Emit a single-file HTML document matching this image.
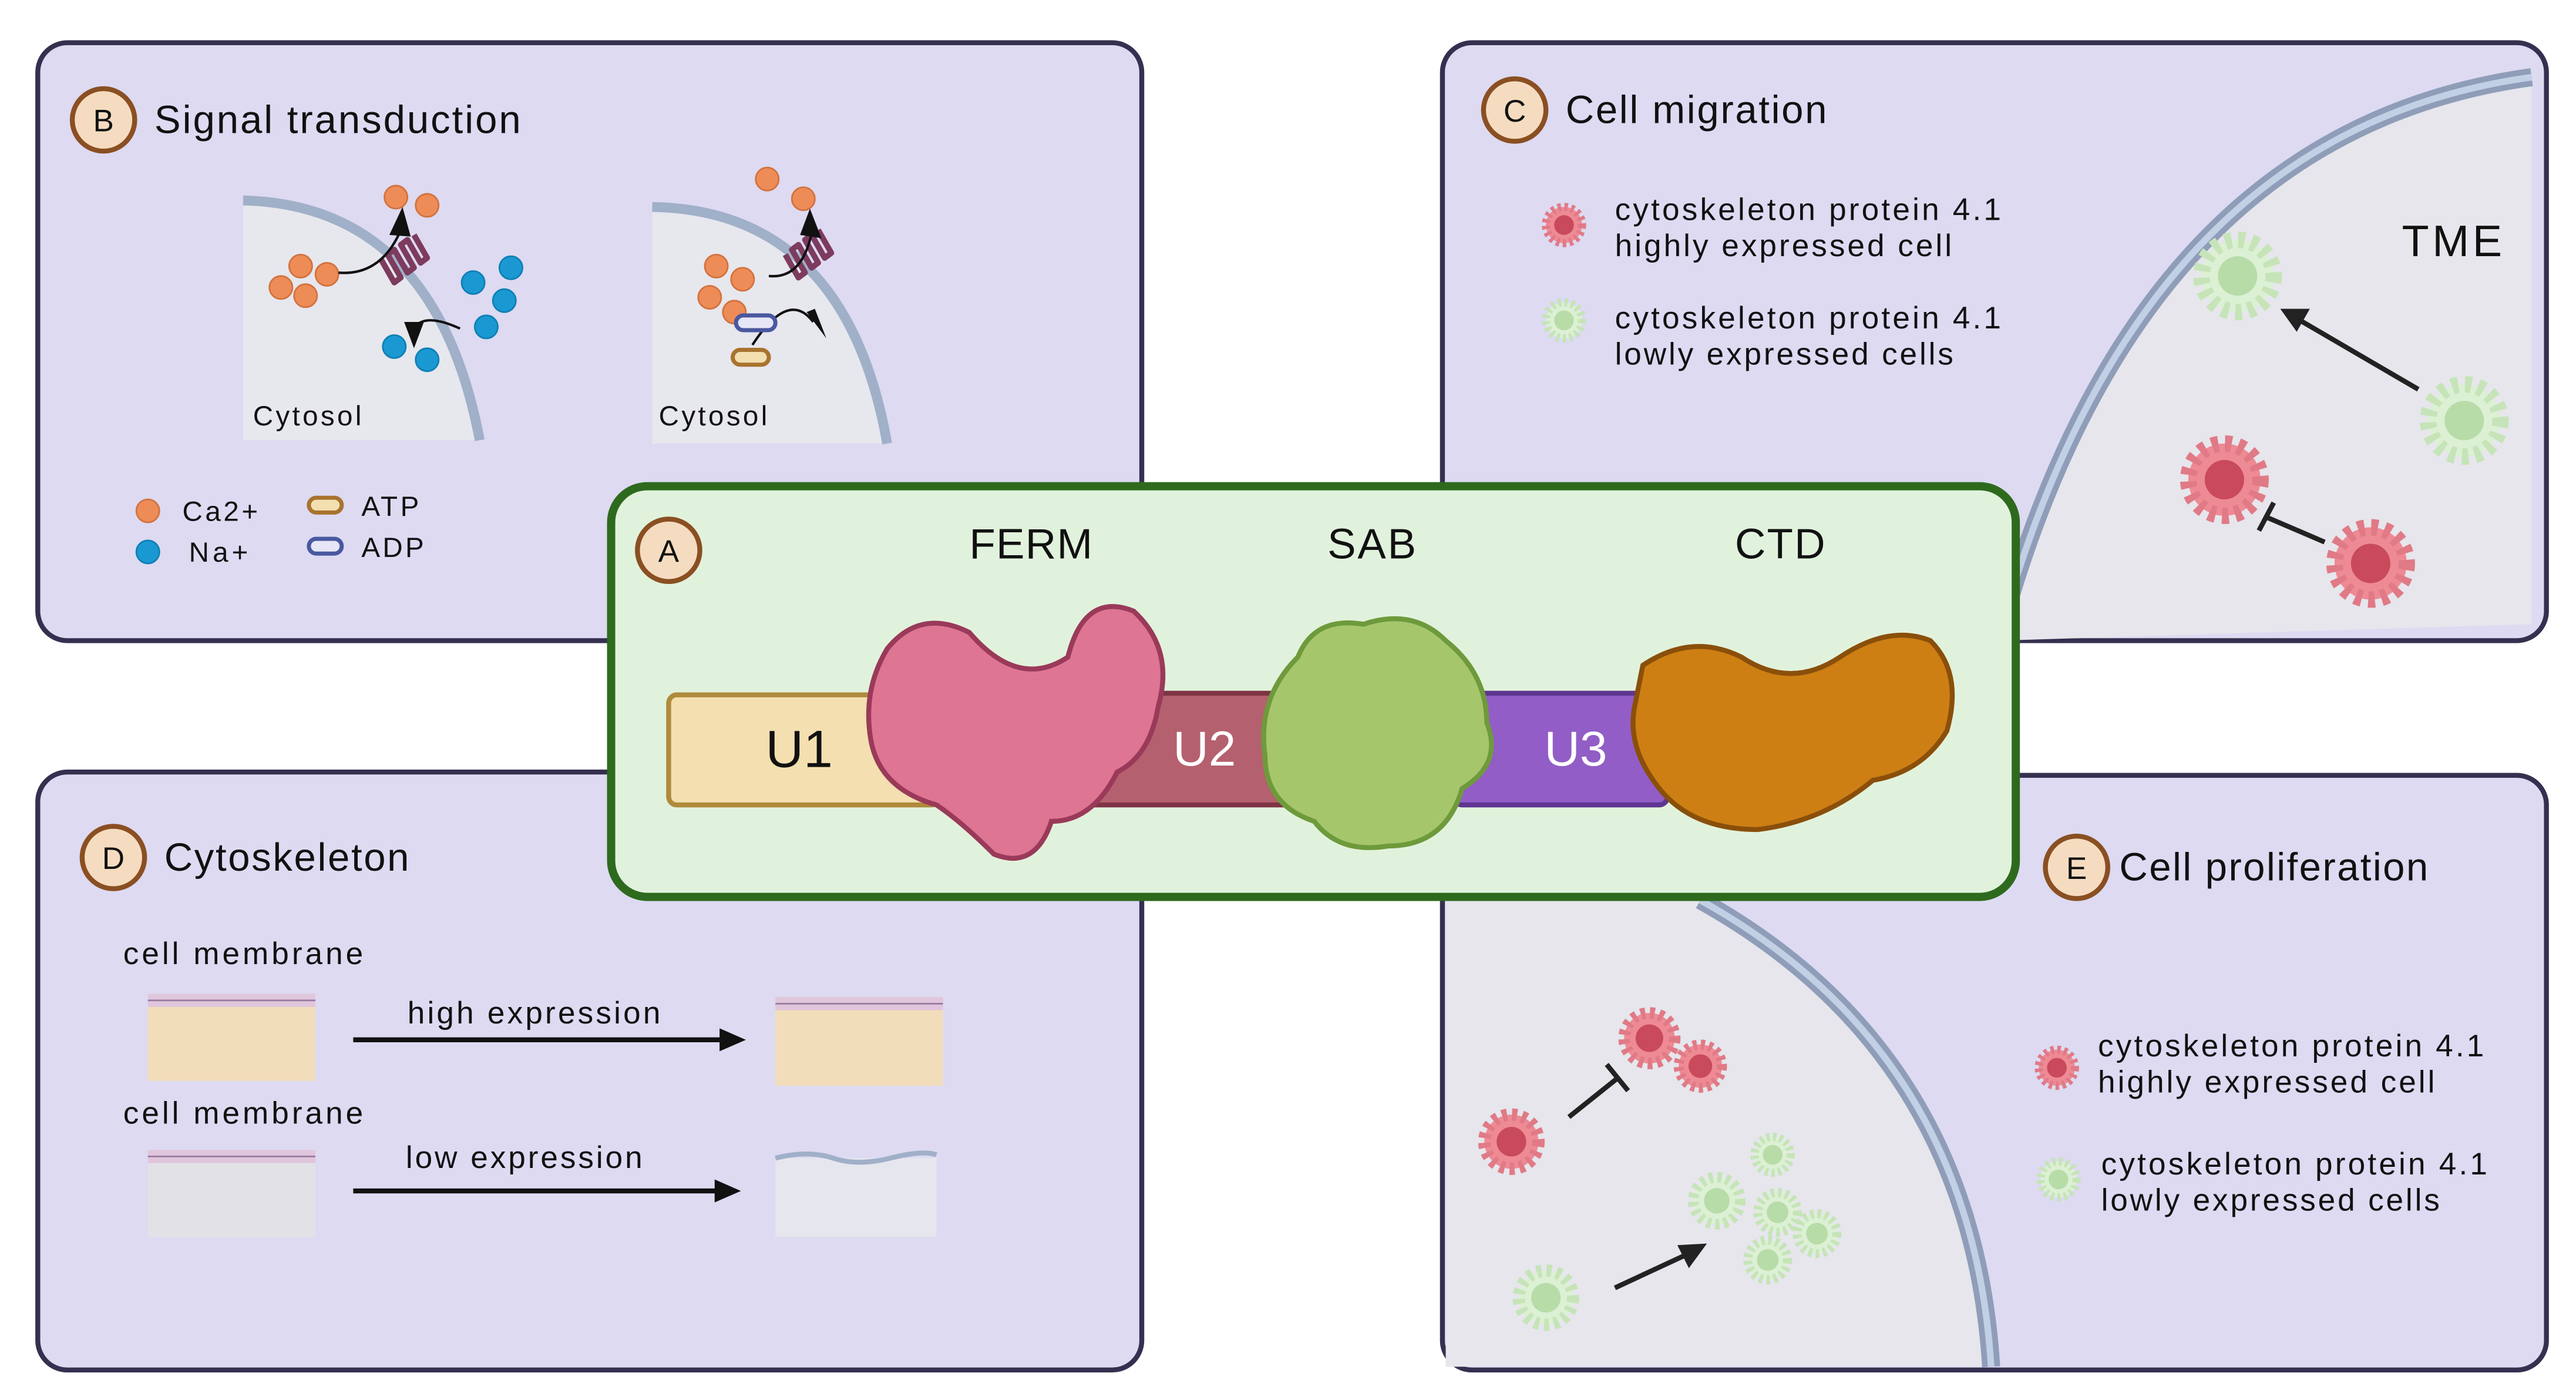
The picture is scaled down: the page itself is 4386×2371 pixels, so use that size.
<!DOCTYPE html>
<html><head><meta charset="utf-8"><style>html,body{margin:0;padding:0;background:#fff}svg{display:block}text{font-family:"Liberation Sans",sans-serif;fill:#111}</style></head><body>
<svg width="4386" height="2371" viewBox="0 0 1568 848" preserveAspectRatio="none" xmlns="http://www.w3.org/2000/svg">
<defs>
<g id="rc"><circle r="11" fill="#ee8a94" stroke="#e07a86" stroke-width="5" stroke-dasharray="2 2"/><circle r="6" fill="#c94a5a"/></g>
<g id="gc"><circle r="11" fill="#dcf0d4" stroke="#c6e4b8" stroke-width="5" stroke-dasharray="2 2"/><circle r="6" fill="#b8dca8"/></g>
</defs>
<rect x="23" y="26" width="672" height="364" rx="18" fill="#dddaf2" stroke="#35304f" stroke-width="3"/>
<rect x="878" y="26" width="672" height="364" rx="18" fill="#dddaf2" stroke="#35304f" stroke-width="3"/>
<rect x="23" y="470" width="672" height="364" rx="18" fill="#dddaf2" stroke="#35304f" stroke-width="3"/>
<rect x="878" y="472" width="672" height="362" rx="18" fill="#dddaf2" stroke="#35304f" stroke-width="3"/>

<!-- B -->
<path d="M148,122 Q265,125 292,268 L148,268 Z" fill="#e7e7ee"/>
<path d="M148,122 Q265,125 292,268" fill="none" stroke="#9fb0c8" stroke-width="6"/>
<path d="M397,126 Q515,128 540,270 L397,270 Z" fill="#e7e7ee"/>
<path d="M397,126 Q515,128 540,270" fill="none" stroke="#9fb0c8" stroke-width="6"/>
<g fill="#ee8c58" stroke="#d2733e" stroke-width="1">
<circle cx="241" cy="120" r="7"/><circle cx="260" cy="125" r="7"/>
<circle cx="183" cy="162" r="7"/><circle cx="199" cy="167" r="7"/><circle cx="171" cy="175" r="7"/><circle cx="186" cy="180" r="7"/>
<circle cx="467" cy="109" r="7"/><circle cx="489" cy="121" r="7"/>
<circle cx="436" cy="162" r="7"/><circle cx="452" cy="170" r="7"/><circle cx="432" cy="181" r="7"/><circle cx="447" cy="190" r="7"/>
<circle cx="90" cy="311" r="7"/></g>
<g fill="#1a98d2" stroke="#1080b4" stroke-width="1">
<circle cx="311" cy="163" r="7"/><circle cx="288" cy="172" r="7"/><circle cx="307" cy="183" r="7"/><circle cx="296" cy="199" r="7"/><circle cx="240" cy="211" r="7"/><circle cx="260" cy="219" r="7"/><circle cx="90" cy="336" r="7"/></g>
<g fill="none" stroke="#7d3b5e" stroke-width="3.5" stroke-linejoin="round">
<path d="M232,158 l8,14 l4,-3 l-8,-14 l4,-3 l8,14 l4,-3 l-8,-14 l4,-3 l8,14 l4,-3 l-8,-14"/>
<path d="M478,155 l8,14 l4,-3 l-8,-14 l4,-3 l8,14 l4,-3 l-8,-14 l4,-3 l8,14 l4,-3 l-8,-14"/></g>
<g fill="none" stroke="#111" stroke-width="1.5"><path d="M206,166 Q232,168 244,140"/><path d="M280,200 Q258,190 252,200"/><path d="M468,168 Q488,170 494,142"/><path d="M458,210 Q480,176 495,196"/></g>
<g fill="#111"><path d="M237,143 L245,126 L250,144 Z"/><path d="M246,196 L252,212 L258,196 Z"/><path d="M487,143 L493,127 L500,145 Z"/><path d="M491,190 L503,206 L496,188 Z"/></g>
<rect x="448" y="192" width="24" height="9" rx="4.5" fill="#e6e6f6" stroke="#4a58a0" stroke-width="2.5"/>
<rect x="446" y="213" width="22" height="9" rx="4.5" fill="#f3dfb0" stroke="#a8732e" stroke-width="2.5"/>
<rect x="188" y="303" width="20" height="9" rx="4.5" fill="#f3dfb0" stroke="#a8732e" stroke-width="2.5"/>
<rect x="188" y="328" width="20" height="9" rx="4.5" fill="#e6e6f6" stroke="#4a58a0" stroke-width="2.5"/>
<g font-size="17"><text x="154" y="259" textLength="66">Cytosol</text><text x="401" y="259" textLength="66">Cytosol</text>
<text x="111" y="317" textLength="46">Ca2+</text><text x="115" y="342" textLength="36">Na+</text><text x="220" y="314" textLength="35">ATP</text><text x="220" y="339" textLength="38">ADP</text></g>
<circle cx="63" cy="73" r="19" fill="#f5dcc0" stroke="#8a4f22" stroke-width="3"/><text x="63" y="80" font-size="19" text-anchor="middle">B</text>
<text x="94" y="81" font-size="24" textLength="223">Signal transduction</text>

<!-- C -->
<path d="M1216,390 Q1300,80 1541,47 L1541,380 L1216,390 Z" fill="#e6e6ec"/>
<path d="M1216,390 Q1300,80 1541,47" fill="none" stroke="#8f9db8" stroke-width="11"/>
<path d="M1216,390 Q1300,80 1541,47" fill="none" stroke="#c2d0e6" stroke-width="4"/>
<circle cx="922" cy="67" r="19" fill="#f5dcc0" stroke="#8a4f22" stroke-width="3"/><text x="922" y="74" font-size="19" text-anchor="middle">C</text>
<text x="953" y="75" font-size="24" textLength="159">Cell migration</text>
<use href="#rc" x="952" y="137"/><use href="#gc" x="952" y="195"/>
<g font-size="19"><text x="983" y="134" textLength="235">cytoskeleton protein 4.1</text><text x="983" y="156" textLength="205">highly expressed cell</text>
<text x="983" y="200" textLength="235">cytoskeleton protein 4.1</text><text x="983" y="222" textLength="206">lowly expressed cells</text></g>
<text x="1462" y="156" font-size="27" textLength="61">TME</text>
<g transform="translate(1362,168) scale(2)"><use href="#gc"/></g>
<g transform="translate(1500,256) scale(2)"><use href="#gc"/></g>
<g transform="translate(1354,292) scale(2)"><use href="#rc"/></g>
<g transform="translate(1443,343) scale(2)"><use href="#rc"/></g>
<line x1="1472" y1="237" x2="1400" y2="195" stroke="#222" stroke-width="3"/><path d="M1388,188 L1406,188 L1398,202 Z" fill="#222"/>
<line x1="1415" y1="330" x2="1380" y2="315" stroke="#222" stroke-width="3"/><line x1="1375" y1="323" x2="1384" y2="306" stroke="#222" stroke-width="3"/>

<!-- D -->
<circle cx="69" cy="522" r="19" fill="#f5dcc0" stroke="#8a4f22" stroke-width="3"/><text x="69" y="529" font-size="19" text-anchor="middle">D</text>
<text x="100" y="530" font-size="24" textLength="149">Cytoskeleton</text>
<g font-size="19"><text x="75" y="587" textLength="146">cell membrane</text><text x="75" y="684" textLength="146">cell membrane</text><text x="248" y="623" textLength="154">high expression</text><text x="247" y="711" textLength="144">low expression</text></g>
<rect x="90" y="605" width="102" height="53" fill="#f2ddbb"/><rect x="90" y="605" width="102" height="8" fill="#e0c6dc"/><line x1="90" y1="609" x2="192" y2="609" stroke="#9a7aa0"/>
<rect x="472" y="607" width="102" height="54" fill="#f2ddbb"/><rect x="472" y="607" width="102" height="8" fill="#e0c6dc"/><line x1="472" y1="611" x2="574" y2="611" stroke="#9a7aa0"/>
<rect x="90" y="700" width="102" height="53" fill="#e2e2e6"/><rect x="90" y="700" width="102" height="8" fill="#e0c6dc"/><line x1="90" y1="704" x2="192" y2="704" stroke="#9a7aa0"/>
<rect x="472" y="705" width="98" height="48" fill="#e6e6ee"/><path d="M472,705 q20,-5 35,0 t35,0 t28,-2" fill="none" stroke="#9fb0c8" stroke-width="3"/>
<line x1="215" y1="633" x2="440" y2="633" stroke="#111" stroke-width="3"/><path d="M454,633 L438,626 L438,640 Z" fill="#111"/>
<line x1="215" y1="725" x2="437" y2="725" stroke="#111" stroke-width="3"/><path d="M451,725 L435,718 L435,732 Z" fill="#111"/>

<!-- E -->
<path d="M880,548 L1035,548 Q1200,640 1212,832 L880,832 Z" fill="#e6e6ec"/>
<path d="M1035,548 Q1200,640 1212,832" fill="none" stroke="#8f9db8" stroke-width="11"/>
<path d="M1035,548 Q1200,640 1212,832" fill="none" stroke="#c2d0e6" stroke-width="4"/>
<circle cx="1264" cy="528" r="19" fill="#f5dcc0" stroke="#8a4f22" stroke-width="3"/><text x="1264" y="535" font-size="19" text-anchor="middle">E</text>
<text x="1290" y="536" font-size="24" textLength="188">Cell proliferation</text>
<use href="#rc" x="1252" y="650"/><use href="#gc" x="1253" y="718"/>
<g font-size="19"><text x="1277" y="643" textLength="235">cytoskeleton protein 4.1</text><text x="1277" y="665" textLength="205">highly expressed cell</text>
<text x="1279" y="715" textLength="235">cytoskeleton protein 4.1</text><text x="1279" y="737" textLength="206">lowly expressed cells</text></g>
<g transform="translate(920,695) scale(1.5)"><use href="#rc"/></g>
<g transform="translate(1004,632) scale(1.4)"><use href="#rc"/></g>
<g transform="translate(1035,649) scale(1.2)"><use href="#rc"/></g>
<g transform="translate(1079,703) scale(1)"><use href="#gc"/></g>
<g transform="translate(1045,731) scale(1.3)"><use href="#gc"/></g>
<g transform="translate(1082,738) scale(1.1)"><use href="#gc"/></g>
<g transform="translate(1106,751) scale(1.1)"><use href="#gc"/></g>
<g transform="translate(1076,767) scale(1.1)"><use href="#gc"/></g>
<g transform="translate(941,790) scale(1.5)"><use href="#gc"/></g>
<line x1="955" y1="680" x2="985" y2="656" stroke="#222" stroke-width="3"/><line x1="978" y1="648" x2="991" y2="664" stroke="#222" stroke-width="3"/>
<line x1="983" y1="784" x2="1026" y2="764" stroke="#222" stroke-width="3"/><path d="M1039,757 L1021,758 L1028,772 Z" fill="#222"/>

<!-- A -->
<rect x="372" y="296" width="855" height="250" rx="22" fill="#e1f2dc" stroke="#2e6a1e" stroke-width="5"/>
<circle cx="407" cy="335" r="19" fill="#f5dcc0" stroke="#8a4f22" stroke-width="3"/><text x="407" y="342" font-size="19" text-anchor="middle">A</text>
<g font-size="26"><text x="590" y="340" textLength="75">FERM</text><text x="808" y="340" textLength="54">SAB</text><text x="1056" y="340" textLength="55">CTD</text></g>
<rect x="407" y="423" width="165" height="67" rx="5" fill="#f3dfb0" stroke="#b08a3c" stroke-width="3"/>
<rect x="655" y="422" width="150" height="68" rx="5" fill="#b5606e" stroke="#7e3444" stroke-width="3"/>
<rect x="885" y="422" width="130" height="68" rx="5" fill="#925dc6" stroke="#5e3590" stroke-width="3"/>
<path d="M540,395 Q560,370 590,385 Q620,420 650,400 Q660,360 690,372 Q715,395 705,430 Q700,460 680,470 Q665,500 640,500 Q630,530 605,520 Q585,500 570,490 Q535,480 530,450 Q525,420 540,395 Z" fill="#de7592" stroke="#9a3a5a" stroke-width="3"/>
<path d="M790,400 Q800,375 830,380 Q860,370 880,390 Q905,410 905,440 Q915,465 890,480 Q880,515 845,515 Q815,520 800,500 Q770,490 770,460 Q765,425 790,400 Z" fill="#a6c66c" stroke="#6e9a3c" stroke-width="3"/>
<path d="M1000,405 Q1030,385 1060,400 Q1090,420 1120,400 Q1150,380 1175,390 Q1195,410 1185,445 Q1170,470 1140,475 Q1110,500 1070,505 Q1030,505 1010,480 Q990,455 995,430 Z" fill="#cd7f14" stroke="#8a4f0a" stroke-width="3"/>
<text x="466" y="467" font-size="32">U1</text>
<g font-size="30"><text x="714" y="466" style="fill:#fff">U2</text><text x="940" y="466" style="fill:#fff">U3</text></g>
</svg>
</body></html>
